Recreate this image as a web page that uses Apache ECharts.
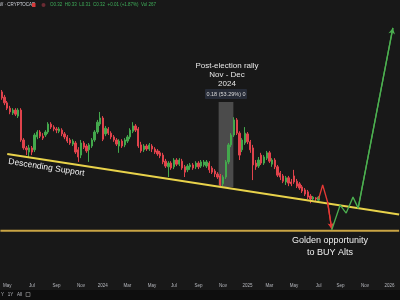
<!DOCTYPE html>
<html><head><meta charset="utf-8">
<script src="https://cdn.jsdelivr.net/npm/echarts@6/dist/echarts.min.js"></script>
<style>html,body{margin:0;padding:0;background:#181818;}#c{width:400px;height:300px;}</style>
</head><body><div id="c"></div>
<script>
// ---- data ----
const firstWeek = '2023-04-17';
const weekCount = 146;
const monthNames = ['Jan','Feb','Mar','Apr','May','Jun','Jul','Aug','Sep','Oct','Nov','Dec'];
// weekly candles: [open, close, low, high]
const candles = [
[.589,.573,.568,.594],[.575,.560,.554,.581],[.560,.546,.541,.565],[.546,.536,.530,.552],
[.533,.541,.528,.546],[.541,.530,.525,.546],[.525,.541,.520,.546],[.541,.462,.457,.546],
[.462,.441,.436,.467],[.441,.436,.422,.446],[.430,.441,.417,.449],[.441,.430,.422,.446],
[.436,.475,.430,.480],[.470,.483,.464,.488],[.483,.472,.467,.488],[.472,.467,.462,.480],
[.475,.483,.470,.488],[.483,.504,.478,.509],[.504,.496,.491,.509],[.496,.491,.485,.501],
[.491,.488,.480,.496],[.485,.491,.480,.496],[.488,.478,.472,.493],[.478,.470,.464,.483],
[.470,.459,.454,.475],[.462,.454,.449,.467],[.451,.459,.446,.464],[.454,.430,.425,.459],
[.436,.417,.404,.443],[.422,.454,.414,.462],[.454,.443,.438,.459],[.446,.433,.428,.451],
[.436,.449,.404,.454],[.446,.462,.441,.467],[.462,.483,.457,.488],[.483,.509,.478,.515],
[.504,.520,.499,.536],[.520,.464,.459,.525],[.478,.493,.472,.499],[.491,.480,.475,.496],
[.480,.470,.464,.485],[.470,.462,.457,.475],[.462,.451,.446,.467],[.446,.459,.428,.464],
[.459,.446,.441,.464],[.449,.462,.443,.467],[.459,.470,.454,.475],[.470,.488,.464,.493],
[.485,.499,.480,.509],[.499,.488,.483,.504],[.491,.446,.441,.496],[.449,.433,.428,.457],
[.436,.446,.430,.451],[.446,.438,.433,.451],[.438,.449,.433,.454],[.446,.438,.430,.451],
[.438,.430,.425,.443],[.433,.425,.420,.438],[.428,.420,.414,.433],[.422,.404,.398,.428],
[.406,.393,.388,.412],[.391,.401,.364,.406],[.401,.388,.383,.406],[.391,.409,.385,.414],
[.409,.398,.393,.414],[.398,.409,.393,.414],[.406,.388,.383,.412],[.391,.377,.364,.396],
[.383,.393,.377,.398],[.391,.396,.383,.401],[.396,.388,.383,.401],[.391,.401,.385,.406],
[.401,.391,.385,.406],[.393,.404,.388,.409],[.396,.404,.391,.409],[.393,.404,.388,.409],
[.401,.383,.375,.406],[.388,.377,.372,.393],[.380,.372,.364,.385],[.372,.364,.359,.377],
[.367,.343,.338,.372],[.346,.364,.340,.369],[.364,.404,.359,.409],[.404,.449,.398,.454],
[.449,.475,.443,.480],[.475,.515,.470,.522],[.515,.480,.475,.520],[.480,.422,.409,.485],
[.436,.462,.430,.467],[.454,.480,.449,.496],[.478,.457,.451,.483],[.457,.436,.428,.462],
[.441,.396,.356,.449],[.401,.391,.383,.409],[.393,.409,.388,.417],[.422,.401,.396,.428],
[.401,.417,.396,.422],[.414,.428,.409,.433],[.428,.406,.401,.433],[.398,.409,.391,.414],
[.409,.391,.385,.414],[.391,.369,.364,.396],[.375,.364,.356,.380],[.367,.353,.348,.372],
[.351,.362,.343,.367],[.362,.348,.340,.367],[.351,.346,.340,.359],[.367,.351,.346,.383],
[.353,.340,.335,.359],[.346,.335,.330,.351],[.338,.327,.322,.343],[.330,.319,.314,.335],
[.325,.311,.306,.330],[.314,.306,.295,.319],[.306,.311,.303,.314],[.309,.306,.301,.311],
[.303,.311,.301,.314]
];
// annotation drawings, [week index, value]
const supportLine = [[2.0,0.425],[145.5,0.265]];
const goldLevel = [[-0.5,0.222],[145.5,0.222]];
const rallyZone = [[79.4,0.562],[84.8,0.338]];
const redPath = [[116.0,0.306],[117.5,0.343],[119.3,0.298],[120.8,0.227]];
const greenPath = [[120.8,0.224],[123.9,0.290],[126.1,0.269],[128.6,0.311],[130.5,0.282],[143.2,0.758]];

// ---- build ----
const t0 = Date.parse(firstWeek + 'T00:00:00Z');
const weeks = [];
for (let i = 0; i < weekCount; i++) weeks.push(new Date(t0 + i * 7 * 864e5));
const categories = weeks.map(d => d.toISOString().slice(0, 10));
function isLabelWeek(i) {
  if (i === 0) return false;
  const m = weeks[i].getUTCMonth();
  return m !== weeks[i - 1].getUTCMonth() && m % 2 === 0;
}
const UP = '#43a84c', DOWN = '#e0434c';

const chart = echarts.init(document.getElementById('c'), null, {renderer: 'canvas'});
function lastSeg(p) { const n = p.length; return [[{coord: p[n - 2]}, {coord: p[n - 1]}]]; }

chart.setOption({
  backgroundColor: '#181818',
  animation: false,
  grid: {left: -0.85, width: 400, top: 12, height: 265},
  xAxis: [
    {type: 'category', data: categories, boundaryGap: true,
     axisLine: {show: false}, axisTick: {show: false}, splitLine: {show: false},
     axisLabel: {interval: (i) => isLabelWeek(i), hideOverlap: false,
       formatter: (v) => { const d = new Date(v + 'T00:00:00Z'); const m = d.getUTCMonth(); return m === 0 ? String(d.getUTCFullYear()) : monthNames[m]; },
       color: '#b7b9bf', fontSize: 4.5, margin: 6, fontFamily: 'Liberation Sans'}},
    {type: 'value', min: -0.5, max: weekCount - 0.5, show: false}
  ],
  yAxis: {type: 'value', min: 0.1, max: 0.8, show: false, splitLine: {show: false}},
  series: [
    {type: 'line', xAxisIndex: 1, data: goldLevel, symbol: 'none', z: 1,
     lineStyle: {color: '#c9a444', width: 2},
     markArea: {silent: true, itemStyle: {color: 'rgba(125,125,125,0.5)'},
       data: [[{coord: rallyZone[0]}, {coord: rallyZone[1]}]]}},
    {type: 'candlestick', xAxisIndex: 0, data: candles, barWidth: 1.8, z: 3,
     itemStyle: {color: UP, color0: DOWN, borderColor: UP, borderColor0: DOWN, borderWidth: 1}},
    {type: 'line', xAxisIndex: 1, data: supportLine, symbol: 'none', z: 4,
     lineStyle: {color: '#e8d24a', width: 2}},
    {type: 'line', xAxisIndex: 1, data: redPath, symbol: 'none', z: 5,
     lineStyle: {color: '#e53935', width: 1.3},
     markLine: {silent: true, symbol: ['none', 'arrow'], symbolSize: [5, 6], label: {show: false},
       lineStyle: {color: '#e53935', width: 1.3, type: 'solid'}, data: lastSeg(redPath)}},
    {type: 'line', xAxisIndex: 1, data: greenPath, symbol: 'none', z: 5,
     lineStyle: {color: '#4caf50', width: 1.3},
     markLine: {silent: true, symbol: ['none', 'arrow'], symbolSize: [5, 6], label: {show: false},
       lineStyle: {color: '#4caf50', width: 1.3, type: 'solid'}, data: lastSeg(greenPath)}}
  ],
  graphic: [
    {type: 'rect', shape: {x: 0, y: 290, width: 400, height: 10}, style: {fill: '#0e0e0e'}, silent: true},
    {type: 'text', x: 1, y: 295, style: {text: 'Y   1Y   All', font: '4.5px "Liberation Sans"', fill: '#b7b9bf', verticalAlign: 'middle'}},
    {type: 'rect', shape: {x: 26, y: 292.5, width: 4, height: 4}, style: {fill: 'none', stroke: '#9a9a9a', lineWidth: 0.6}},
    {type: 'text', x: -1, y: 5, style: {text: 'W · CRYPTOCAP', font: '4.5px "Liberation Sans"', fill: '#d1d4dc', verticalAlign: 'middle'}},
    {type: 'rect', shape: {x: 32, y: 3, width: 3.5, height: 4, r: 0.5}, style: {fill: '#d63a3a'}},
    {type: 'circle', shape: {cx: 43.5, cy: 5, r: 2}, style: {fill: '#6b2b33'}},
    {type: 'text', x: 50, y: 5, style: {text: 'O0.32  H0.33  L0.31  C0.32  +0.01 (+1.87%)  Vol 267', font: '4.5px "Liberation Sans"', fill: '#3fae5a', verticalAlign: 'middle'}},
    {type: 'text', x: 227, y: 75, style: {text: 'Post-election rally\nNov - Dec\n2024', font: '8px "Liberation Sans"', lineHeight: 9, fill: '#e6e6e6', align: 'center', verticalAlign: 'middle'}},
    {type: 'rect', shape: {x: 205, y: 89, width: 42, height: 10, r: 1}, style: {fill: '#262b37'}},
    {type: 'text', x: 226, y: 94, style: {text: '0.18 (53.29%) 0', font: '5.5px "Liberation Sans"', fill: '#d8d8d8', align: 'center', verticalAlign: 'middle'}},
    {type: 'text', x: 46.5, y: 167.5, rotation: -0.155, style: {text: 'Descending Support', font: '8.5px "Liberation Sans"', fill: '#f0f0f0', align: 'center', verticalAlign: 'middle'}},
    {type: 'text', x: 330, y: 247, style: {text: 'Golden opportunity\nto BUY Alts', font: '9px "Liberation Sans"', lineHeight: 12, fill: '#f0f0f0', align: 'center', verticalAlign: 'middle'}}
  ]
});
</script></body></html>
